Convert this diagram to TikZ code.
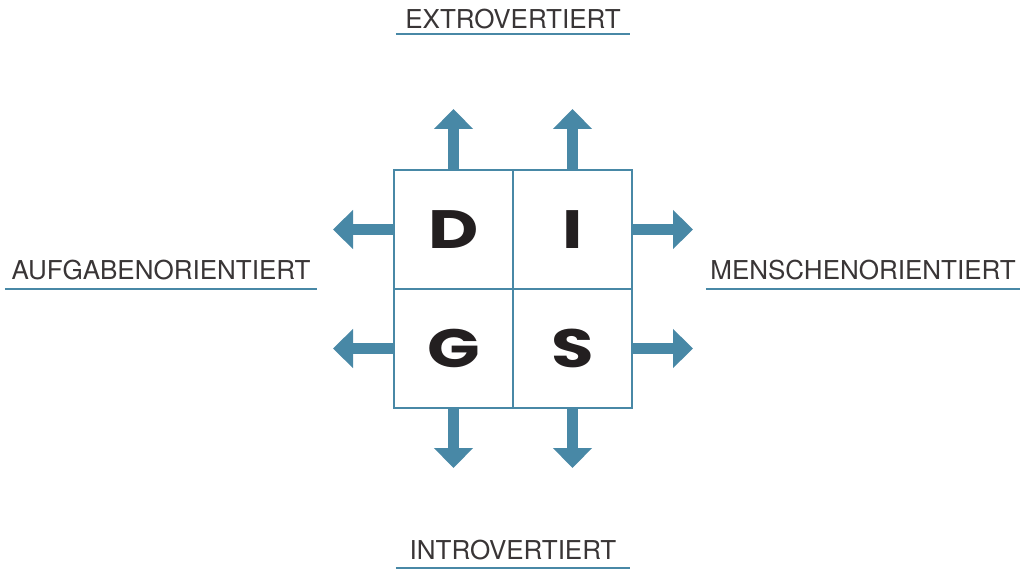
\documentclass[tikz,border=0pt]{standalone}
\usepackage{fontspec}
\setmainfont{TeX Gyre Heros}
\newfontfamily\buchstabe{Poppins}
\usetikzlibrary{positioning,arrows.meta}
\definecolor{blau}{RGB}{72,136,166}
\definecolor{schwarz}{RGB}{35,31,32}
\newcommand\breit[1]{\scalebox{1.28}[1]{#1}}
\tikzset{
  feld/.style={draw=blau, line width=1.5pt, minimum size=119pt, outer sep=0pt,
    inner sep=0pt, text=schwarz, font=\buchstabe\bfseries\fontsize{54}{54}\selectfont},
  pfeil/.style={draw=blau, line width=11pt, -{Triangle[width=38pt,length=20pt]}},
  etikett/.style={anchor=south, inner xsep=0pt, inner ysep=5pt, text=schwarz!90,
    font=\fontsize{26}{26}\selectfont},
  linie/.style={draw=blau, line width=1.5pt}
}
\begin{document}
\begin{tikzpicture}[x=1pt,y=-1pt]
  \useasboundingbox (0,0) rectangle (1026,569);

  % die vier Felder
  \node[feld] (d) at (453.5,229.5) {\breit{D}};
  \node[feld, right=0pt of d] (i) {\breit{I}};
  \node[feld, below=0pt of d] (g) {\breit{G}};
  \node[feld, right=0pt of g] (s) {\breit{S}};

  % Pfeile nach aussen
  \foreach \f in {d,i} \draw[pfeil] (\f.north) -- ++(0,-61);
  \foreach \f in {g,s} \draw[pfeil] (\f.south) -- ++(0,60);
  \foreach \f in {d,g} \draw[pfeil] (\f.west) -- ++(-61,0);
  \foreach \f in {i,s} \draw[pfeil] (\f.east) -- ++(61,0);

  % Beschriftungen
  \node[etikett, minimum width=234pt] (ex) at (513,34) {EXTROVERTIERT};
  \node[etikett, minimum width=234pt, inner ysep=8pt] (in) at (513,568) {INTROVERTIERT};
  \node[etikett, minimum width=312pt, inner ysep=9pt] (au) at (161,289) {AUFGABENORIENTIERT};
  \node[etikett, minimum width=314pt, inner ysep=9pt] (me) at (863,289) {MENSCHENORIENTIERT};

  \draw[linie] (ex.south west) -- (ex.south east);
  \draw[linie] (in.south west) -- (in.south east);
  \draw[linie] (au.south west) -- (au.south east);
  \draw[linie] (me.south west) -- (me.south east);
\end{tikzpicture}
\end{document}
